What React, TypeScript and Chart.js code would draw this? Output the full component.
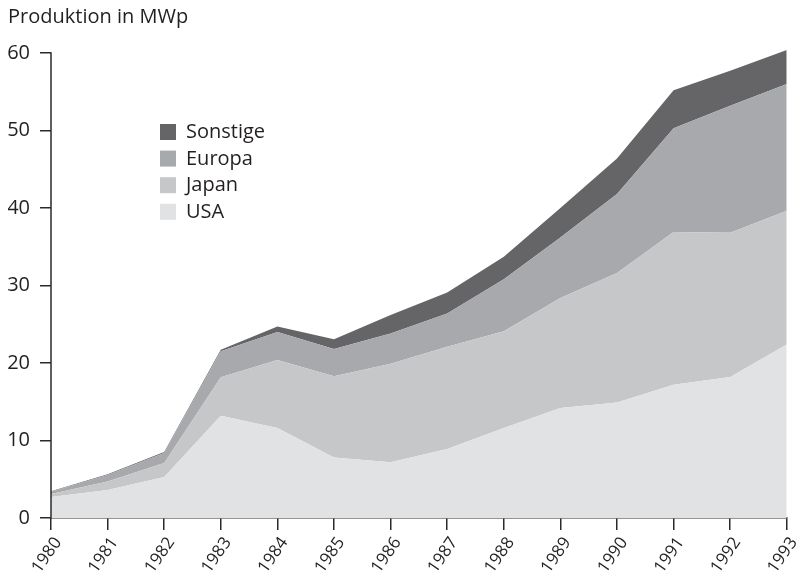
import React, { useEffect, useRef } from "react";
import { Chart, registerables } from "chart.js";

Chart.register(...registerables);

const years = ["1980", "1981", "1982", "1983", "1984", "1985", "1986", "1987", "1988", "1989", "1990", "1991", "1992", "1993"];
const usa = [2.7, 3.6, 5.3, 13.2, 11.6, 7.8, 7.2, 8.9, 11.6, 14.2, 14.9, 17.2, 18.2, 22.4];
const japan = [0.4, 1.1, 1.8, 4.95, 8.8, 10.5, 12.7, 13.2, 12.5, 14.2, 16.7, 19.7, 18.6, 17.25];
const europa = [0.3, 0.85, 1.3, 3.35, 3.6, 3.5, 3.9, 4.3, 6.7, 7.8, 10.2, 13.4, 16.4, 16.35];
const sonstige = [0.05, 0.1, 0.1, 0.2, 0.7, 1.25, 2.4, 2.7, 2.9, 3.8, 4.6, 4.9, 4.5, 4.4];

const seriesNames = ["USA", "Japan", "Europa", "Sonstige"];
const seriesColors = ["#e1e2e4", "#c6c7c9", "#a8a9ac", "#656567"];
const yTicks = [0, 10, 20, 30, 40, 50, 60];
const yAxisMax = 60.5;
const titleText = "Produktion in MWp";

const FONT = "'Open Sans', 'Noto Sans', sans-serif";
const TEXT = "#231f20";
const AXIS = "#2a2a2a";

const legendPlugin = {
  id: "boxLegend",
  afterDatasetsDraw(chart: any) {
    const ctx = chart.ctx;
    const ds = chart.data.datasets.slice().reverse();
    const x0 = 160;
    const y0 = 124;
    const gap = 26.6;
    const box = 16;
    ctx.save();
    ctx.font = `20px ${FONT}`;
    ctx.textBaseline = "middle";
    ctx.textAlign = "left";
    ds.forEach((d: any, i: number) => {
      const y = y0 + i * gap;
      ctx.fillStyle = d.backgroundColor;
      ctx.fillRect(x0, y, box, box);
      ctx.fillStyle = TEXT;
      ctx.fillText(d.label, x0 + 26, y + box / 2 + 0.5);
    });
    ctx.restore();
  },
};

const yAxisLinePlugin = {
  id: "yAxisLine",
  afterDraw(chart: any) {
    const ctx = chart.ctx;
    const ys = chart.scales.y;
    const x = chart.chartArea.left;
    ctx.save();
    ctx.strokeStyle = AXIS;
    ctx.lineWidth = 1.5;
    ctx.beginPath();
    ctx.moveTo(x, ys.getPixelForValue(yTicks[0]) + 0.75);
    ctx.lineTo(x, ys.getPixelForValue(yTicks[yTicks.length - 1]) - 0.75);
    ctx.stroke();
    ctx.restore();
  },
};

export default function App() {
  const ref = useRef<HTMLCanvasElement | null>(null);

  useEffect(() => {
    if (!ref.current) return;
    const data = [usa, japan, europa, sonstige];
    const chart = new Chart(ref.current, {
      type: "line",
      data: {
        labels: years,
        datasets: data.map((vals, i) => ({
          label: seriesNames[i],
          data: vals,
          backgroundColor: seriesColors[i],
          borderColor: seriesColors[i],
          borderWidth: 0,
          pointRadius: 0,
          tension: 0,
          fill: i === 0 ? "origin" : "-1",
        })),
      },
      options: {
        animation: false,
        responsive: false,
        maintainAspectRatio: false,
        layout: {
          autoPadding: false,
          padding: { left: 8, right: 13, top: 0, bottom: 0 },
        },
        plugins: {
          legend: { display: false },
          tooltip: { enabled: false },
          title: {
            display: true,
            text: titleText,
            align: "start",
            color: TEXT,
            font: { family: FONT, size: 20, weight: "normal", lineHeight: 1.2 },
            padding: { top: 5, bottom: 20.1 },
          },
        },
        scales: {
          x: {
            type: "category",
            offset: false,
            grid: {
              display: true,
              drawOnChartArea: false,
              drawTicks: true,
              tickLength: 12,
              color: AXIS,
              lineWidth: 1.5,
            },
            border: { display: true, color: AXIS, width: 1.5 },
            ticks: {
              color: TEXT,
              font: { family: FONT, size: 17 },
              minRotation: 55,
              maxRotation: 55,
              autoSkip: false,
              padding: 3.5,
              labelOffset: 7,
            },
            afterFit(scale: any) {
              scale.height = 61;
            },
          },
          y: {
            stacked: true,
            min: 0,
            max: yAxisMax,
            grid: {
              display: true,
              drawOnChartArea: false,
              drawTicks: true,
              tickLength: 11,
              color: AXIS,
              lineWidth: 1.5,
            },
            border: { display: false },
            afterBuildTicks(scale: any) {
              scale.ticks = yTicks.map((v) => ({ value: v }));
            },
            ticks: {
              color: TEXT,
              font: { family: FONT, size: 20 },
              padding: 10,
            },
            afterFit(scale: any) {
              scale.width = 43;
            },
          },
        },
      },
      plugins: [legendPlugin, yAxisLinePlugin],
    });
    return () => chart.destroy();
  }, []);

  return (
    <div style={{ position: "fixed", left: 0, top: 0, width: 807, height: 579, background: "#fff" }}>
      <canvas ref={ref} width={807} height={579} style={{ display: "block", width: 807, height: 579 }} />
    </div>
  );
}
